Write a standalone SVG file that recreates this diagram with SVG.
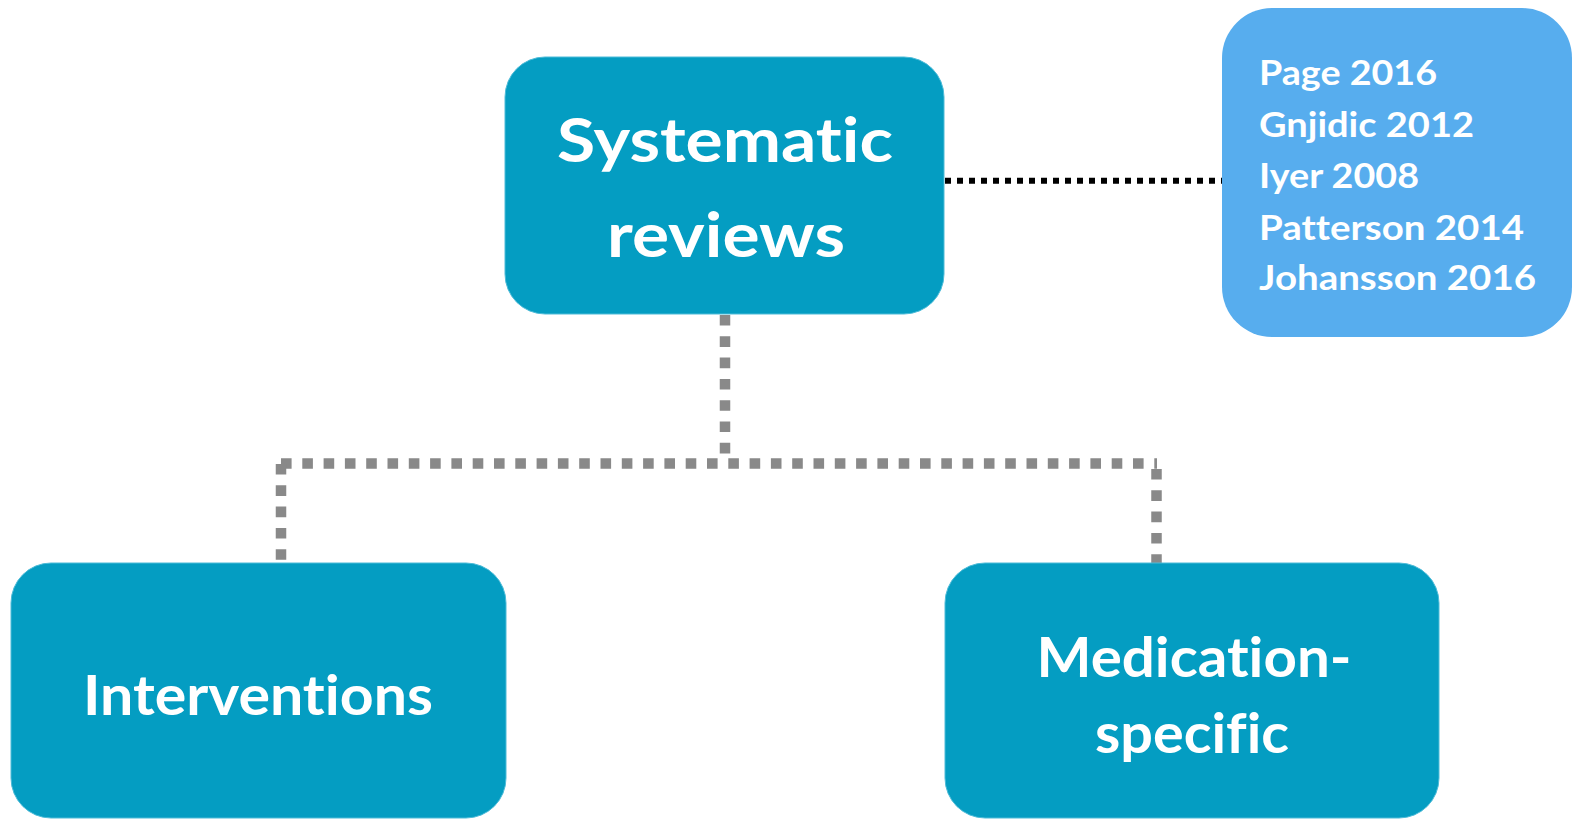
<svg xmlns="http://www.w3.org/2000/svg" width="1573" height="819" viewBox="0 0 1573 819">
  <style>
    .box { fill: #049DC2; stroke: #4CBBD8; stroke-width: 1; }
    .refbox { fill: #57ADEE; }
    .t { font-family: Lato, "Open Sans", "Liberation Sans", sans-serif; font-weight: bold; fill: #FFFFFF; font-variant-ligatures: none; font-feature-settings: "liga" 0, "clig" 0, "dlig" 0; }
    .big { font-size: 62px; text-anchor: middle; }
    .mid { font-size: 55px; text-anchor: middle; }
    .small { font-size: 35px; }
    .gray { fill: none; stroke: #898989; stroke-width: 10.5; stroke-dasharray: 10.6 10.7; }
    .black { fill: none; stroke: #000000; stroke-width: 6; stroke-dasharray: 6 6; }
  </style>
  <rect width="1573" height="819" fill="#FFFFFF"/>
  <g id="connectors">
    <line class="black" x1="945" y1="180.7" x2="1222" y2="180.7"/>
    <line class="gray" x1="725" y1="315" x2="725" y2="458"/>
    <line class="gray" x1="281" y1="463.5" x2="1157" y2="463.5"/>
    <line class="gray" x1="281" y1="464" x2="281" y2="563"/>
    <line class="gray" x1="1156.5" y1="469" x2="1156.5" y2="563"/>
  </g>
  <g id="node-systematic">
    <rect class="box" x="505" y="57" width="439" height="257" rx="40" ry="40"/>
    <text class="t big" x="725" y="162" textLength="336" lengthAdjust="spacingAndGlyphs">Systematic</text>
    <text class="t big" x="726" y="257" textLength="238" lengthAdjust="spacingAndGlyphs">reviews</text>
  </g>
  <g id="node-references">
    <rect class="refbox" x="1222" y="8" width="350" height="329" rx="50" ry="50"/>
    <text class="t small" x="1259" y="85" textLength="178" lengthAdjust="spacingAndGlyphs">Page 2016</text>
    <text class="t small" x="1259" y="136.5" textLength="215" lengthAdjust="spacingAndGlyphs">Gnjidic 2012</text>
    <text class="t small" x="1259" y="188" textLength="160" lengthAdjust="spacingAndGlyphs">Iyer 2008</text>
    <text class="t small" x="1259" y="239.5" textLength="265" lengthAdjust="spacingAndGlyphs">Patterson 2014</text>
    <text class="t small" x="1259" y="290" textLength="277" lengthAdjust="spacingAndGlyphs">Johansson 2016</text>
  </g>
  <g id="node-interventions">
    <rect class="box" x="11" y="563" width="495" height="255" rx="40" ry="40"/>
    <text class="t mid" x="258" y="715" textLength="350" lengthAdjust="spacingAndGlyphs">Interventions</text>
  </g>
  <g id="node-medication">
    <rect class="box" x="945" y="563" width="494" height="255" rx="40" ry="40"/>
    <text class="t mid" x="1194" y="677" textLength="315" lengthAdjust="spacingAndGlyphs">Medication-</text>
    <text class="t mid" x="1192" y="753" textLength="194" lengthAdjust="spacingAndGlyphs">specific</text>
  </g>
</svg>
